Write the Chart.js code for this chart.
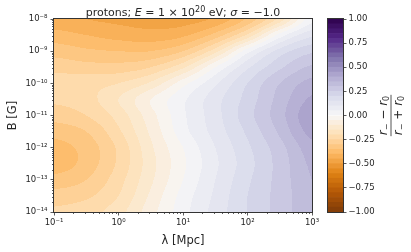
<!DOCTYPE html>
<html>
<head>
<meta charset="utf-8">
<script src="https://cdn.jsdelivr.net/npm/chart.js@4.4.1/dist/chart.umd.min.js"></script>
<style>
  html, body { margin: 0; padding: 0; background: #fff; }
  #wrap { position: relative; width: 411px; height: 252px; }
  #wrap canvas { position: absolute; left: 0; top: 0; }
</style>
</head>
<body>
<div id="wrap">
  <canvas id="field" width="411" height="252"></canvas>
  <canvas id="cbar" width="411" height="252"></canvas>
</div>
<script>
// axis ticks
const lambdaTicks = [0.1, 1, 10, 100, 1000];
const lambdaTickLabels = ["10⁻¹", "10⁰", "10¹", "10²", "10³"];
const fieldTicks = [1e-14, 1e-13, 1e-12, 1e-11, 1e-10, 1e-9, 1e-8];
const fieldTickLabels = ["10⁻¹⁴", "10⁻¹³", "10⁻¹²", "10⁻¹¹", "10⁻¹⁰", "10⁻⁹", "10⁻⁸"];
const ratioTicks = [-1, -0.75, -0.5, -0.25, 0, 0.25, 0.5, 0.75, 1];

// (r- - r0)/(r- + r0) on a log10 grid
const logLambdaGrid = [-1, -0.5, 0, 0.5, 1, 1.5, 2, 2.5, 3];
const logBGrid = [-8, -8.5, -9, -9.5, -10, -10.5, -11, -11.5, -12, -12.5, -13, -13.5, -14];
const ratioRows = [
  [-0.43, -0.45, -0.46, -0.47, -0.47, -0.44, -0.34, -0.18, 0.03],
  [-0.38, -0.40, -0.42, -0.43, -0.41, -0.33, -0.19, 0.02, 0.14],
  [-0.32, -0.34, -0.35, -0.35, -0.30, -0.17, 0.03, 0.17, 0.24],
  [-0.27, -0.28, -0.28, -0.25, -0.16, 0.00, 0.14, 0.24, 0.31],
  [-0.22, -0.22, -0.20, -0.14, -0.02, 0.09, 0.20, 0.30, 0.37],
  [-0.24, -0.22, -0.15, -0.05, 0.04, 0.13, 0.22, 0.32, 0.41],
  [-0.28, -0.25, -0.18, -0.07, 0.04, 0.13, 0.23, 0.33, 0.44],
  [-0.33, -0.30, -0.21, -0.09, 0.03, 0.12, 0.21, 0.31, 0.42],
  [-0.37, -0.33, -0.24, -0.11, 0.00, 0.10, 0.19, 0.28, 0.38],
  [-0.38, -0.33, -0.24, -0.12, -0.01, 0.09, 0.18, 0.27, 0.36],
  [-0.33, -0.30, -0.22, -0.11, 0.00, 0.10, 0.19, 0.27, 0.35],
  [-0.28, -0.26, -0.20, -0.09, 0.02, 0.11, 0.20, 0.27, 0.34],
  [-0.24, -0.22, -0.17, -0.07, 0.03, 0.12, 0.20, 0.27, 0.34],
];

// contour levels, -1 .. 1 in steps of 0.05
const levelStep = 0.05;
const levels = [];
for (let i = 0; i <= 40; i++) levels.push(-1 + i * levelStep);

const TEXT = "#262626";
const AXIS = "#333333";
const FONT = "'DejaVu Sans', sans-serif";

// matplotlib PuOr
const puor = [
  [127, 59, 8], [179, 88, 6], [224, 130, 20], [253, 184, 99], [254, 224, 182],
  [247, 247, 247], [216, 218, 235], [178, 171, 210], [128, 115, 172], [84, 39, 136], [45, 0, 75],
];

function puorColor(v) {
  let t = Math.min(1, Math.max(0, (v + 1) / 2)) * (puor.length - 1);
  const i = Math.min(puor.length - 2, Math.floor(t));
  const f = t - i;
  const c = puor[i].map((a, k) => Math.round(a + (puor[i + 1][k] - a) * f));
  return `rgb(${c[0]},${c[1]},${c[2]})`;
}

function bandOf(v) {
  return Math.min(levels.length - 2, Math.max(0, Math.floor((v - levels[0]) / levelStep)));
}

// fractional index of v in an evenly spaced grid
function gridPos(grid, v) {
  const f = (v - grid[0]) / (grid[1] - grid[0]);
  return Math.min(grid.length - 1, Math.max(0, f));
}

function cubic(p0, p1, p2, p3, t) {
  return 0.5 * (2 * p1 + (p2 - p0) * t + (2 * p0 - 5 * p1 + 4 * p2 - p3) * t * t + (3 * p1 - p0 - 3 * p2 + p3) * t * t * t);
}

function ratioAt(logL, logB) {
  const fx = gridPos(logLambdaGrid, logL);
  const fy = gridPos(logBGrid, logB);
  const nx = logLambdaGrid.length, ny = logBGrid.length;
  const i = Math.min(nx - 2, Math.floor(fx)), j = Math.min(ny - 2, Math.floor(fy));
  const tx = fx - i, ty = fy - j;
  const cx = (k) => Math.min(nx - 1, Math.max(0, k));
  const cy = (k) => Math.min(ny - 1, Math.max(0, k));
  const rows = [];
  for (let r = j - 1; r <= j + 2; r++) {
    const row = ratioRows[cy(r)];
    rows.push(cubic(row[cx(i - 1)], row[i], row[i + 1], row[cx(i + 2)], tx));
  }
  return cubic(rows[0], rows[1], rows[2], rows[3], ty);
}

const bandColors = levels.slice(0, -1).map((lo) => puorColor(lo + levelStep / 2));

// filled contours, painted through the chart scales
const contourPlugin = {
  id: "contour",
  beforeDatasetsDraw(chart) {
    const { ctx, chartArea: a, scales } = chart;
    ctx.save();
    const x0 = Math.floor(a.left), x1 = Math.ceil(a.right);
    for (let py = Math.floor(a.top); py < Math.ceil(a.bottom); py++) {
      const logB = Math.log10(scales.y.getValueForPixel(py + 0.5));
      let runStart = x0;
      let runBand = null;
      for (let px = x0; px <= x1; px++) {
        let band = null;
        if (px < x1) {
          const logL = Math.log10(scales.x.getValueForPixel(px + 0.5));
          band = bandOf(ratioAt(logL, logB));
        }
        if (band !== runBand) {
          if (runBand !== null) {
            ctx.fillStyle = bandColors[runBand];
            ctx.fillRect(runStart, py, px - runStart, 1);
          }
          runStart = px;
          runBand = band;
        }
      }
    }
    ctx.restore();
  },
};

function drawMinorTicks(ctx, scale, decades, horizontal, edge) {
  ctx.strokeStyle = AXIS;
  ctx.lineWidth = 0.8;
  decades.forEach((d) => {
    for (let m = 2; m <= 9; m++) {
      const p = Math.round(scale.getPixelForValue(m * d)) + 0.5;
      ctx.beginPath();
      if (horizontal) {
        ctx.moveTo(p, edge);
        ctx.lineTo(p, edge + 2);
      } else {
        ctx.moveTo(edge, p);
        ctx.lineTo(edge - 2, p);
      }
      ctx.stroke();
    }
  });
}

const framePlugin = {
  id: "frame",
  afterDraw(chart) {
    const { ctx, chartArea: a, scales } = chart;
    ctx.save();
    drawMinorTicks(ctx, scales.x, lambdaTicks.slice(0, -1), true, a.bottom);
    drawMinorTicks(ctx, scales.y, fieldTicks.slice(0, -1), false, a.left);
    ctx.strokeStyle = AXIS;
    ctx.lineWidth = 1;
    ctx.strokeRect(a.left - 0.5, a.top - 0.5, a.right - a.left + 1, a.bottom - a.top + 1);

    // title with math-style italics
    const parts = [
      ["protons; ", "normal", 11, 0],
      ["E", "italic", 11, 0],
      [" = 1 × 10", "normal", 11, 0],
      ["20", "normal", 8, -4],
      [" eV; ", "normal", 11, 0],
      ["σ", "italic", 11, 0],
      [" = −1.0", "normal", 11, 0],
    ];
    let width = 0;
    parts.forEach((p) => {
      ctx.font = `${p[1]} ${p[2]}px ${FONT}`;
      width += ctx.measureText(p[0]).width;
    });
    let x = (a.left + a.right) / 2 - width / 2;
    ctx.fillStyle = TEXT;
    ctx.textBaseline = "alphabetic";
    ctx.textAlign = "left";
    parts.forEach((p) => {
      ctx.font = `${p[1]} ${p[2]}px ${FONT}`;
      ctx.fillText(p[0], x, 15.5 + p[3]);
      x += ctx.measureText(p[0]).width;
    });
    ctx.restore();
  },
};

new Chart(document.getElementById("field"), {
  type: "scatter",
  data: { datasets: [{ data: [] }] },
  options: {
    responsive: false,
    animation: false,
    devicePixelRatio: 1,
    layout: { padding: { top: 19, right: 99, left: 0, bottom: 0 } },
    plugins: { legend: { display: false }, tooltip: { enabled: false } },
    scales: {
      x: {
        type: "logarithmic",
        min: 0.1,
        max: 1000,
        afterBuildTicks: (s) => { s.ticks = lambdaTicks.map((v) => ({ value: v })); },
        afterFit: (s) => { s.height = 40; },
        ticks: {
          callback: (v, i) => lambdaTickLabels[i],
          font: { family: FONT, size: 8.5 },
          color: TEXT,
          padding: 2,
          maxRotation: 0,
          autoSkip: false,
        },
        grid: { drawOnChartArea: false, tickLength: 3.5, color: AXIS, tickWidth: 0.8 },
        border: { color: AXIS },
        title: {
          display: true,
          text: "λ [Mpc]",
          font: { family: FONT, size: 11.5 },
          color: TEXT,
          padding: { top: 0, bottom: 4 },
        },
      },
      y: {
        type: "logarithmic",
        min: 1e-14,
        max: 1e-8,
        afterBuildTicks: (s) => { s.ticks = fieldTicks.map((v) => ({ value: v })); },
        afterFit: (s) => { s.width = 54; },
        ticks: {
          callback: (v, i) => fieldTickLabels[i],
          font: { family: FONT, size: 8.5 },
          color: TEXT,
          padding: 3,
          autoSkip: false,
        },
        grid: { drawOnChartArea: false, tickLength: 3.5, color: AXIS, tickWidth: 0.8 },
        border: { color: AXIS },
        title: {
          display: true,
          text: "B [G]",
          font: { family: FONT, size: 11.5 },
          color: TEXT,
          padding: { top: 6, bottom: 0 },
        },
      },
    },
  },
  plugins: [contourPlugin, framePlugin],
});

// colour bar: one floating bar per contour band
const cbarPlugin = {
  id: "cbarFrame",
  afterDraw(chart) {
    const { ctx, chartArea: a } = chart;
    ctx.save();
    ctx.strokeStyle = AXIS;
    ctx.lineWidth = 1;
    ctx.strokeRect(a.left - 0.5, a.top - 0.5, a.right - a.left + 1, a.bottom - a.top + 1);

    // rotated fraction label
    ctx.translate(391, (a.top + a.bottom) / 2);
    ctx.rotate(-Math.PI / 2);
    ctx.fillStyle = TEXT;
    ctx.textAlign = "left";
    ctx.textBaseline = "alphabetic";
    const drawMath = (segs, y) => {
      let w = 0;
      segs.forEach((s) => { ctx.font = s[1]; w += ctx.measureText(s[0]).width; });
      let x = -w / 2;
      segs.forEach((s) => {
        ctx.font = s[1];
        ctx.fillText(s[0], x, y + s[2]);
        x += ctx.measureText(s[0]).width;
      });
      return w;
    };
    const it = `italic 12px ${FONT}`;
    const sub = `normal 8px ${FONT}`;
    const rm = `normal 12px ${FONT}`;
    const w1 = drawMath([["r", it, 0], ["−", sub, 2], [" − ", rm, 0], ["r", it, 0], ["0", sub, 2]], -4);
    const w2 = drawMath([["r", it, 0], ["−", sub, 2], [" + ", rm, 0], ["r", it, 0], ["0", sub, 2]], 11);
    const w = Math.max(w1, w2) + 2;
    ctx.strokeStyle = TEXT;
    ctx.lineWidth = 0.8;
    ctx.beginPath();
    ctx.moveTo(-w / 2, 0);
    ctx.lineTo(w / 2, 0);
    ctx.stroke();
    ctx.restore();
  },
};

new Chart(document.getElementById("cbar"), {
  type: "bar",
  data: {
    labels: ["ratio"],
    datasets: bandColors.map((c, k) => ({
      data: [[levels[k], levels[k + 1]]],
      backgroundColor: c,
      borderWidth: 0,
      barPercentage: 1,
      categoryPercentage: 1,
      grouped: false,
    })),
  },
  options: {
    responsive: false,
    animation: false,
    devicePixelRatio: 1,
    layout: { padding: { top: 19, left: 328, right: 0, bottom: 40 } },
    plugins: { legend: { display: false }, tooltip: { enabled: false } },
    scales: {
      x: { display: false },
      y: {
        position: "right",
        min: -1,
        max: 1,
        afterBuildTicks: (s) => { s.ticks = ratioTicks.map((v) => ({ value: v })); },
        afterFit: (s) => { s.width = 68; },
        ticks: {
          callback: (v) => v.toFixed(2).replace("-", "−"),
          font: { family: FONT, size: 8.5 },
          color: TEXT,
          padding: 2,
          autoSkip: false,
        },
        grid: { drawOnChartArea: false, tickLength: 3.5, color: AXIS, tickWidth: 0.8 },
        border: { color: AXIS },
      },
    },
  },
  plugins: [cbarPlugin],
});
</script>
</body>
</html>
